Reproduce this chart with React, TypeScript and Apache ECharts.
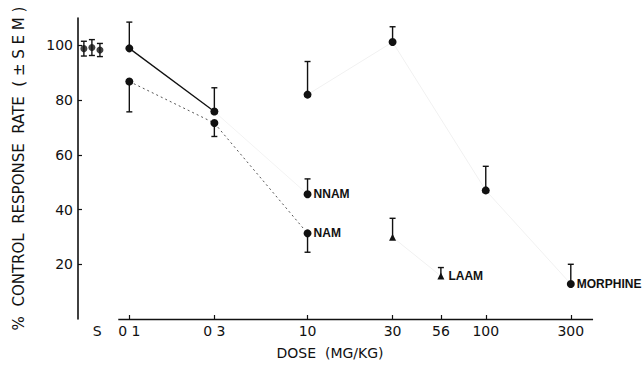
import React, { useEffect, useRef } from "react";
import * as echarts from "echarts";

// ---- data ----
const doseTicks = [0.1, 0.3, 1.0, 3.0, 5.6, 10, 30];
const doseTickLabels = ["0 1", "0 3", "10", "30", "56", "100", "300"];
const yTicks = [20, 40, 60, 80, 100];

const salineValues = [98.8, 99.2, 98.3];
const salineSem = [2.7, 2.9, 2.4];

const nnamDoses = [0.1, 0.3, 1.0];
const nnamValues = [98.9, 75.8, 45.6];
const nnamSem = [9.6, 8.7, 5.6];

const namDoses = [0.1, 0.3, 1.0];
const namValues = [86.8, 71.6, 31.3];
const namSem = [11.1, 4.9, 6.9];

const morphineDoses = [1.0, 3.0, 10, 30];
const morphineValues = [82.0, 101.2, 47.0, 12.8];
const morphineSem = [12.1, 5.6, 8.8, 7.2];

const laamDoses = [3.0, 5.6];
const laamValues = [29.9, 15.7];
const laamSem = [6.9, 3.1];

// ---- layout constants (log10 dose units) ----
const X_MIN = -1.288;
const X_MAX = 1.641;
const SALINE_POS = -1.21;
const SALINE_LABEL_POS = -1.18;
const SALINE_SPREAD = [-0.045, 0, 0.045];
const AXIS_START = -1.062;
const AXIS_END = 1.602;

const INK = "#111";
const lg = (d: number) => Math.log10(d);

type Dir = "up" | "down" | "both";
function errData(xs: number[], vals: number[], sems: number[], dir: Dir) {
  return xs.map((x, i) => {
    const v = vals[i];
    const s = sems[i];
    const lo = dir === "up" ? v : v - s;
    const hi = dir === "down" ? v : v + s;
    return [x, lo, hi, dir === "up" ? 0 : 1, dir === "down" ? 0 : 1];
  });
}

function pts(doses: number[], vals: number[], labelText?: string, labelDist = 3) {
  const last = doses.length - 1;
  return doses.map((d, i) => {
    const value = [lg(d), vals[i]];
    if (labelText && i === last) {
      return {
        value,
        label: {
          show: true,
          position: "right",
          distance: labelDist,
          formatter: labelText,
          fontFamily: "Liberation Sans",
          fontWeight: "bold",
          fontSize: 12,
          color: INK,
        },
      };
    }
    return value;
  });
}

export default function App() {
  const ref = useRef<HTMLDivElement>(null);

  useEffect(() => {
    if (!ref.current) return;
    const chart = echarts.init(ref.current, undefined, { renderer: "svg" });

    const salineX = salineValues.map((_, i) => SALINE_POS + SALINE_SPREAD[i]);
    const errAll = [
      ...errData(salineX, salineValues, salineSem, "both"),
      ...errData(nnamDoses.map(lg), nnamValues, nnamSem, "up"),
      ...errData(namDoses.map(lg), namValues, namSem, "down"),
      ...errData(morphineDoses.map(lg), morphineValues, morphineSem, "up"),
      ...errData(laamDoses.map(lg), laamValues, laamSem, "up"),
    ];

    const labelValues = [SALINE_LABEL_POS, ...doseTicks.map(lg)];
    const fmtX = (v: number) => {
      if (Math.abs(v - SALINE_LABEL_POS) < 1e-6) return "S";
      for (let i = 0; i < doseTicks.length; i++) {
        if (Math.abs(lg(doseTicks[i]) - v) < 1e-6) return doseTickLabels[i];
      }
      return "";
    };

    const nnamSolid = nnamDoses
      .map((d, i) => [d, nnamValues[i]])
      .filter((p) => p[0] <= 0.3)
      .map((p) => [lg(p[0]), p[1]]);

    const option: any = {
      animation: false,
      backgroundColor: "#fff",
      grid: { left: 78, right: 44, top: 18, bottom: 65 },
      xAxis: {
        type: "value",
        min: X_MIN,
        max: X_MAX,
        splitLine: { show: false },
        axisLine: { show: false },
        axisTick: {
          show: true,
          inside: true,
          length: 4,
          customValues: doseTicks.map(lg),
          lineStyle: { color: INK, width: 1.2 },
        },
        axisLabel: {
          customValues: labelValues,
          formatter: fmtX,
          fontFamily: "DejaVu Sans",
          fontSize: 14,
          color: INK,
          margin: 5,
        },
        name: "DOSE  (MG/KG)",
        nameLocation: "middle",
        nameGap: 27,
        nameTextStyle: {
          fontFamily: "DejaVu Sans",
          fontSize: 14,
          color: INK,
          verticalAlign: "top",
          padding: [0, 18, 0, 0],
        },
      },
      yAxis: {
        type: "value",
        min: 0,
        max: 110,
        interval: 20,
        splitLine: { show: false },
        axisLine: { show: true, onZero: false, lineStyle: { color: INK, width: 1.6 } },
        axisTick: {
          show: true,
          inside: true,
          length: 4,
          customValues: yTicks,
          lineStyle: { color: INK, width: 1.2 },
        },
        axisLabel: {
          customValues: yTicks,
          fontFamily: "DejaVu Sans",
          fontSize: 14,
          color: INK,
          margin: 5,
        },
        name: "%  CONTROL  RESPONSE  RATE  ( ± S E M )",
        nameLocation: "middle",
        nameGap: 52,
        nameTextStyle: {
          fontFamily: "DejaVu Sans",
          fontSize: 15,
          color: INK,
          padding: [0, 0, 0, 0],
        },
      },
      series: [
        {
          name: "SEM",
          type: "custom",
          z: 1,
          encode: { x: 0, y: [1, 2] },
          data: errAll,
          renderItem: (_params: any, api: any) => {
            const x = api.value(0);
            const pLo = api.coord([x, api.value(1)]);
            const pHi = api.coord([x, api.value(2)]);
            const w = 3;
            const style = { stroke: INK, lineWidth: 1.4 };
            const children: any[] = [
              { type: "line", shape: { x1: pLo[0], y1: pLo[1], x2: pHi[0], y2: pHi[1] }, style },
            ];
            if (api.value(3))
              children.push({ type: "line", shape: { x1: pLo[0] - w, y1: pLo[1], x2: pLo[0] + w, y2: pLo[1] }, style });
            if (api.value(4))
              children.push({ type: "line", shape: { x1: pHi[0] - w, y1: pHi[1], x2: pHi[0] + w, y2: pHi[1] }, style });
            return { type: "group", children };
          },
        },
        {
          name: "Saline",
          type: "scatter",
          z: 3,
          symbol: "circle",
          symbolSize: 7,
          itemStyle: { color: INK },
          data: salineValues.map((v, i) => [salineX[i], v]),
        },
        {
          name: "NNAM line",
          type: "line",
          z: 2,
          symbol: "none",
          lineStyle: { color: INK, width: 1.3 },
          data: nnamSolid,
          markLine: {
            silent: true,
            symbol: ["none", "none"],
            label: { show: false },
            lineStyle: { color: INK, width: 1.4, type: "solid" },
            data: [[{ coord: [AXIS_START, 0] }, { coord: [AXIS_END, 0] }]],
          },
        },
        {
          name: "NNAM",
          type: "line",
          z: 3,
          symbol: "circle",
          symbolSize: 8,
          itemStyle: { color: INK },
          lineStyle: { color: INK, width: 1, opacity: 0.05 },
          data: pts(nnamDoses, nnamValues, "NNAM", 2),
        },
        {
          name: "NAM",
          type: "line",
          z: 3,
          symbol: "circle",
          symbolSize: 8,
          itemStyle: { color: INK },
          lineStyle: { color: "#555", width: 1, type: [2, 3] },
          data: pts(namDoses, namValues, "NAM", 2),
        },
        {
          name: "MORPHINE",
          type: "line",
          z: 3,
          symbol: "circle",
          symbolSize: 8,
          itemStyle: { color: INK },
          lineStyle: { color: INK, width: 1, opacity: 0.06 },
          data: pts(morphineDoses, morphineValues, "MORPHINE", 2),
        },
        {
          name: "LAAM",
          type: "line",
          z: 3,
          symbol: "triangle",
          symbolSize: 7,
          itemStyle: { color: INK },
          lineStyle: { color: INK, width: 1, opacity: 0.06 },
          data: pts(laamDoses, laamValues, "LAAM", 4),
        },
      ],
    };

    chart.setOption(option);
    return () => chart.dispose();
  }, []);

  return (
    <div
      ref={ref}
      style={{ position: "fixed", left: 0, top: 0, width: 644, height: 384, background: "#fff" }}
    />
  );
}
